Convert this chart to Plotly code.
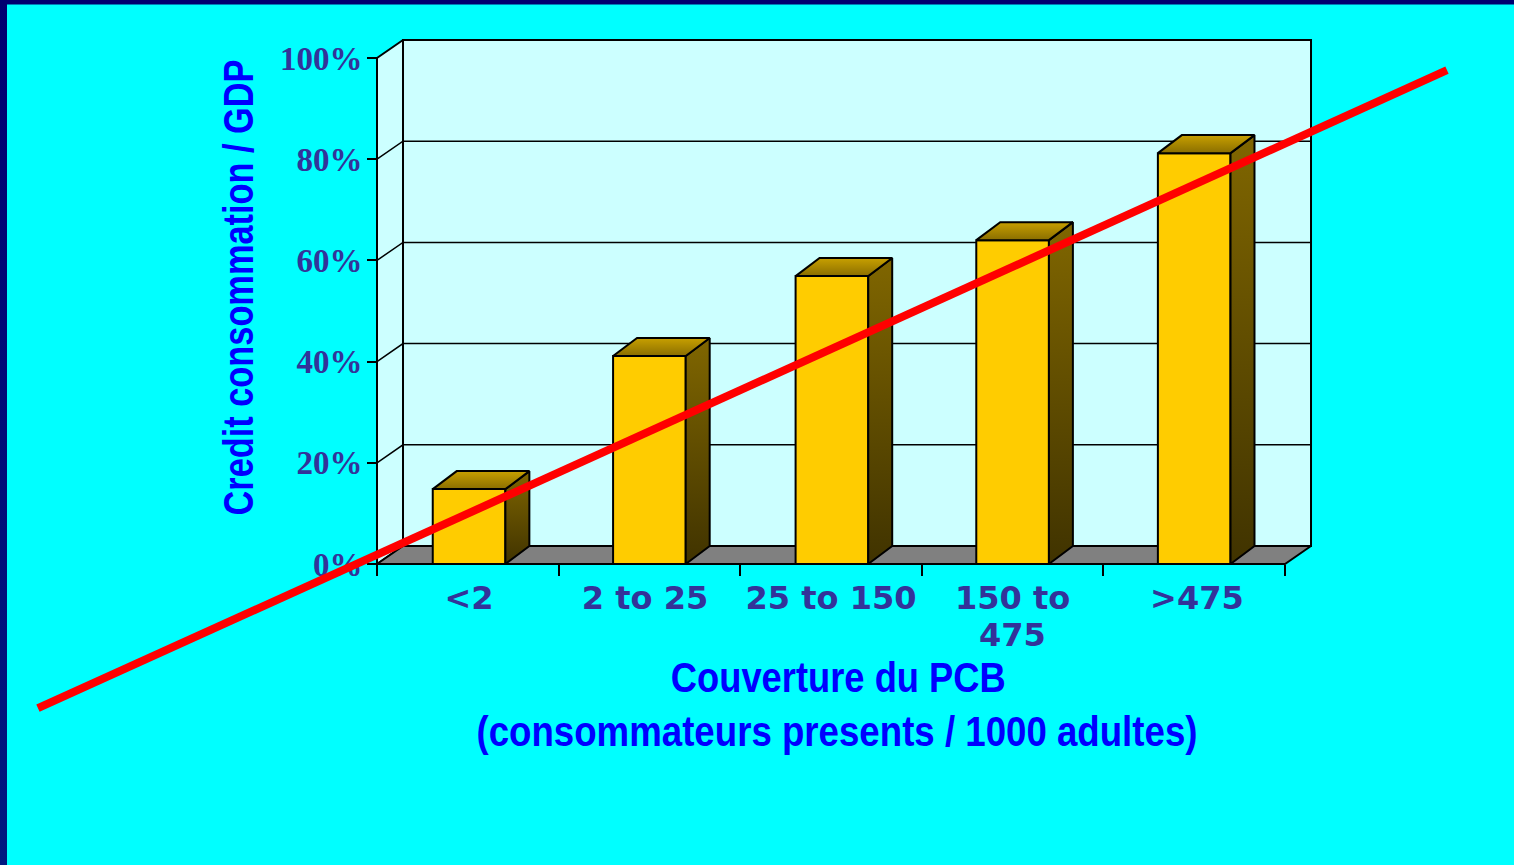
import plotly.graph_objects as go

categories = ["<2", "2 to 25", "25 to 150", "150 to", ">475"]
wrapped_label = "475"
values = [14.8, 41.1, 56.9, 64.0, 81.2]
y_ticks = [0, 20, 40, 60, 80, 100]
y_labels = ["0%", "20%", "40%", "60%", "80%", "100%"]
x_ticks = [0, 1, 2, 3, 4, 5]
bar_centers = [0.507, 1.5, 2.505, 3.5, 4.5]
label_positions = [0.507, 1.476, 2.5, 3.5, 4.515]
trend_x = [-1.867, 5.892]
trend_y = [-28.5, 97.6]

BAR_W = 0.40
WALL_DX, WALL_DY = 0.1432, 3.56
BAR_DX, BAR_DY = 0.132, 3.56
FRONT = "#FFCC00"
INK = "#333399"
BLUE = "#0000FF"
CYAN = "#00FFFF"
WALL = "#CCFFFF"

# The plot area fills the page so that the 3D walls and the long trend line are not clipped.
W, H = 1514, 865
X0_PX, Y0_PX = 377, 564
PX_X, PX_Y = 181.6, 5.06
X_RANGE = [-X0_PX / PX_X, (W - X0_PX) / PX_X]
Y_RANGE = [(Y0_PX - H) / PX_Y, Y0_PX / PX_Y]


def poly(xs, ys, fill=None, gradient=None, width=2):
    kw = dict(fillgradient=gradient) if gradient else dict(fillcolor=fill)
    return go.Scatter(x=xs + xs[:1], y=ys + ys[:1], mode="lines", fill="toself",
                      line=dict(color="black", width=width),
                      hoverinfo="skip", showlegend=False, **kw)


fig = go.Figure()

# page frame: navy band at the left, with a slight vertical gradient
x_band = (7 - X0_PX) / PX_X
fig.add_trace(go.Scatter(
    x=[X_RANGE[0], x_band, x_band, X_RANGE[0], X_RANGE[0]],
    y=[Y_RANGE[1], Y_RANGE[1], Y_RANGE[0], Y_RANGE[0], Y_RANGE[1]],
    mode="lines", fill="toself", line=dict(width=0), hoverinfo="skip", showlegend=False,
    fillgradient=dict(type="vertical", start=Y_RANGE[1], stop=Y_RANGE[0],
                      colorscale=[[0, "#000070"], [1, "#001A80"]])))

# walls and floor
fig.add_trace(poly([0, WALL_DX, WALL_DX, 0], [0, WALL_DY, 100 + WALL_DY, 100], fill=WALL))
fig.add_trace(poly([WALL_DX, 5 + WALL_DX, 5 + WALL_DX, WALL_DX],
                   [WALL_DY, WALL_DY, 100 + WALL_DY, 100 + WALL_DY], fill=WALL))
for t in y_ticks[1:-1]:
    fig.add_trace(go.Scatter(x=[0, WALL_DX, 5 + WALL_DX], y=[t, t + WALL_DY, t + WALL_DY],
                             mode="lines", line=dict(color="black", width=1.5),
                             hoverinfo="skip", showlegend=False))
fig.add_trace(poly([0, 5, 5 + WALL_DX, WALL_DX], [0, 0, WALL_DY, WALL_DY], fill="#808080"))

# bars: front face, right side and top
for c, v in zip(bar_centers, values):
    l, r = c - BAR_W / 2, c + BAR_W / 2
    fig.add_trace(poly([l, r, r, l], [0, 0, v, v], fill=FRONT))
    fig.add_trace(poly([r, r + BAR_DX, r + BAR_DX, r], [0, BAR_DY, v + BAR_DY, v],
                       gradient=dict(type="vertical", start=v + BAR_DY, stop=0,
                                     colorscale=[[0, "#806600"], [1, "#403300"]])))
    fig.add_trace(poly([l, r, r + BAR_DX, l + BAR_DX], [v, v, v + BAR_DY, v + BAR_DY],
                       gradient=dict(type="vertical", start=v + BAR_DY, stop=v,
                                     colorscale=[[0, "#C8A000"], [1, "#8A6E00"]])))

fig.add_trace(go.Scatter(x=trend_x, y=trend_y, mode="lines", line=dict(color="#FF0000", width=8),
                         hoverinfo="skip", showlegend=False))

title_font = dict(family="Liberation Sans", size=43, color=BLUE, weight="bold")
fig.update_layout(
    width=W, height=H,
    margin=dict(l=0, r=0, t=0, b=0, autoexpand=False),
    paper_bgcolor=CYAN, plot_bgcolor=CYAN, showlegend=False,
    xaxis=dict(range=X_RANGE, domain=[0, 1], anchor="free", position=1 - Y0_PX / H,
               tickmode="array", tickvals=label_positions, ticktext=categories,
               ticks="", showline=False, showgrid=False, zeroline=False,
               tickangle=0, layer="below traces", ticklabelstandoff=12,
               tickfont=dict(family="DejaVu Sans", size=32, color=INK, weight="bold"),
               minor=dict(tickmode="array", tickvals=x_ticks, ticks="outside", ticklen=11,
                          tickwidth=2, tickcolor="black", showgrid=False)),
    yaxis=dict(range=Y_RANGE, domain=[0, 1], anchor="free", position=X0_PX / W,
               tickmode="array", tickvals=y_ticks, ticktext=y_labels,
               ticks="outside", ticklen=10, tickwidth=2, tickcolor="black",
               showline=False, showgrid=False, zeroline=False,
               layer="below traces", ticklabelstandoff=-2,
               tickfont=dict(family="Liberation Serif", size=33, color=INK, weight="bold")),
    annotations=[
        dict(text=wrapped_label, xref="x", yref="paper", x=3.5, y=1 - 635 / H,
             xanchor="center", yanchor="middle", showarrow=False,
             font=dict(family="DejaVu Sans", size=32, color=INK, weight="bold")),
        dict(text="Couverture du PCB",
             xref="paper", yref="paper", x=838 / W, y=1 - 677 / H,
             xanchor="center", yanchor="middle", showarrow=False, font=title_font),
        dict(text="(consommateurs presents / 1000 adultes)",
             xref="paper", yref="paper", x=837 / W, y=1 - 731 / H,
             xanchor="center", yanchor="middle", showarrow=False, font=title_font),
        dict(text="Credit consommation / GDP", textangle=-90,
             xref="paper", yref="paper", x=238 / W, y=1 - 288 / H,
             xanchor="center", yanchor="middle", showarrow=False, font=title_font),
    ],
    shapes=[dict(type="rect", xref="paper", yref="paper", layer="below",
                 x0=0, x1=1, y0=1 - 4.5 / H, y1=1, fillcolor="#000070", line=dict(width=0))],
)

# The reference's titles use a horizontally condensed bold sans: fit each to its measured length.
squeeze = """
document.body.style.margin='0';document.body.style.overflow='hidden';
var lengths={'Couverture du PCB':335,'(consommateurs presents / 1000 adultes)':721,'Credit consommation / GDP':456};
document.querySelectorAll('.annotation-text').forEach(function(t){
  var n=lengths[t.textContent];
  if(n){t.setAttribute('textLength',n);t.setAttribute('lengthAdjust','spacingAndGlyphs');}
});
"""
fig.write_html("out.html", config={"displayModeBar": False}, post_script=squeeze)
